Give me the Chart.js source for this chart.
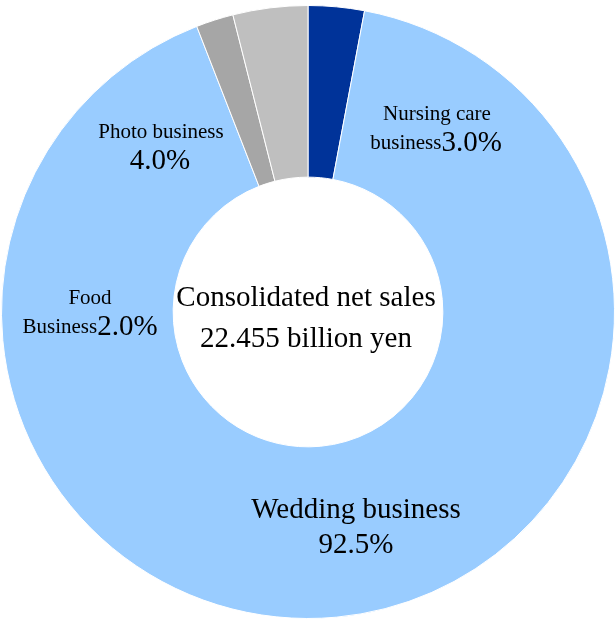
<!DOCTYPE html>
<html>
<head>
<meta charset="utf-8">
<script src="https://cdn.jsdelivr.net/npm/chart.js@4"></script>
<style>
  html, body { margin: 0; padding: 0; background: #ffffff; }
  #wrap { width: 616px; height: 624px; }
</style>
</head>
<body>
<div id="wrap"><canvas id="c" width="616" height="624"></canvas></div>
<script>
// Segment sales share by business (%)
const segments = ["Nursing care business", "Wedding business", "Food Business", "Photo business"];
const shares = [3.0, 92.5, 2.0, 4.0];
const colors = ["#003399", "#99CCFF", "#A6A6A6", "#BFBFBF"];
const centerLines = ["Consolidated net sales", "22.455 billion yen"];

const SERIF = '"Liberation Serif", "Times New Roman", serif';
const pct = v => v.toFixed(1) + "%";
const SMALL = 21, BIG = 29;

// Text lines: offset from chart centre (dx, dy) and runs of [text, font size]
const textLines = [
  { dx: 129, dy: -198, runs: [["Nursing care", SMALL]] },
  { dx: 128, dy: -169, runs: [["business", SMALL], [pct(shares[0]), BIG]] },
  { dx: 48, dy: 198, runs: [["Wedding business", BIG]] },
  { dx: 48, dy: 233, runs: [[pct(shares[1]), BIG]] },
  { dx: -218, dy: -14, runs: [["Food", SMALL]] },
  { dx: -218, dy: 15, runs: [["Business", SMALL], [pct(shares[2]), BIG]] },
  { dx: -147, dy: -180, runs: [["Photo business", SMALL]] },
  { dx: -148, dy: -151, runs: [[pct(shares[3]), BIG]] },
  { dx: -2, dy: -14, runs: [[centerLines[0], BIG]] },
  { dx: -2, dy: 27, runs: [[centerLines[1], BIG]] }
];

const textPlugin = {
  id: "segmentText",
  afterDatasetsDraw(chart) {
    const { ctx } = chart;
    const arc = chart.getDatasetMeta(0).data[0];
    const cx = arc.x, cy = arc.y;
    ctx.save();
    ctx.fillStyle = "#000000";
    ctx.textBaseline = "middle";
    ctx.textAlign = "left";
    textLines.forEach(({ dx, dy, runs }) => {
      let total = 0;
      runs.forEach(([t, s]) => { ctx.font = s + "px " + SERIF; total += ctx.measureText(t).width; });
      let left = cx + dx - total / 2;
      runs.forEach(([t, s]) => {
        ctx.font = s + "px " + SERIF;
        ctx.fillText(t, left, cy + dy);
        left += ctx.measureText(t).width;
      });
    });
    ctx.restore();
  }
};

new Chart(document.getElementById("c"), {
  type: "doughnut",
  data: {
    labels: segments,
    datasets: [{
      data: shares,
      backgroundColor: colors,
      borderColor: "#ffffff",
      borderWidth: 1
    }]
  },
  options: {
    responsive: false,
    animation: false,
    cutout: "44%",
    layout: { padding: { left: 1, right: 1, top: 0, bottom: 0 } },
    plugins: {
      legend: { display: false },
      tooltip: { enabled: false }
    }
  },
  plugins: [textPlugin]
});
</script>
</body>
</html>
